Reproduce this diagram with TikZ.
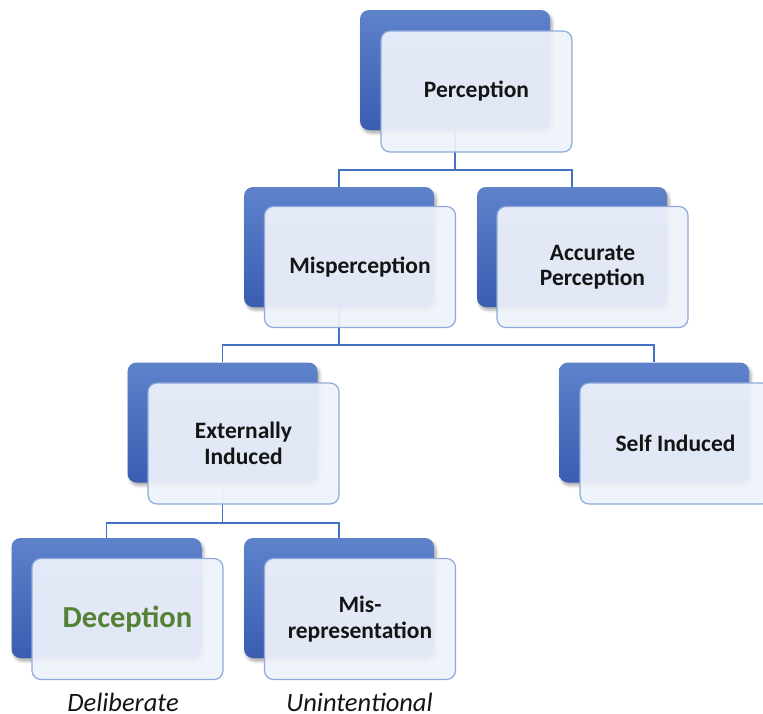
\documentclass[tikz,border=0pt]{standalone}
\usepackage{fontspec}
\setmainfont{Carlito}
\usetikzlibrary{shadows.blur}
\definecolor{connc}{HTML}{4472C4}
\definecolor{bTop}{HTML}{5E82CA}
\definecolor{bBot}{HTML}{3A5DB2}
\definecolor{fBorder}{HTML}{8EAADB}
\definecolor{fFill}{HTML}{EEF2FA}
\definecolor{decgreen}{HTML}{548235}
\definecolor{txt}{HTML}{141414}
\begin{document}
\begin{tikzpicture}[x=1pt,y=-1pt,
  backbox/.style={rounded corners=9pt, minimum width=190pt, minimum height=120pt, inner sep=0pt,
    top color=bTop, bottom color=bBot, draw=none,
    blur shadow={shadow xshift=2pt, shadow yshift=-3pt, shadow blur radius=3pt, shadow opacity=35}},
  frontbox/.style={rounded corners=9pt, minimum width=191pt, minimum height=121pt, inner sep=0pt,
    draw=fBorder, line width=1.2pt, fill=fFill, fill opacity=0.93, text opacity=1,
    font=\fontsize{23.5}{25.5}\selectfont\bfseries, align=center, text=txt},
  link/.style={draw=connc, line width=1.6pt},
  tag/.style={font=\fontsize{26.5}{30}\selectfont\itshape, text=txt, anchor=base, inner sep=0pt}]
\useasboundingbox (0,0) rectangle (763,713);
% back boxes
\node[backbox] (pb) at (455,70) {};
\node[backbox] (mb) at (339,247) {};
\node[backbox] (ab) at (572,247) {};
\node[backbox] (eb) at (222.5,422.5) {};
\node[backbox] (sb) at (654,422.5) {};
\node[backbox] (db) at (106.5,598) {};
\node[backbox] (rb) at (339,598) {};
% connectors
\draw[link] (pb.south) -- ++(0,40) -| (mb.north);
\draw[link] (pb.south) -- ++(0,40) -| (ab.north);
\draw[link] (mb.south) -- ++(0,38) -| (eb.north);
\draw[link] (mb.south) -- ++(0,38) -| (sb.north);
\draw[link] (eb.south) -- ++(0,40) -| (db.north);
\draw[link] (eb.south) -- ++(0,40) -| (rb.north);
% front boxes
\node[frontbox] (pf) at (476.5,91.5) {Perception};
\node[frontbox] (mf) at (360,267) {Misperception};
\node[frontbox] (af) at (592.5,267) {Accurate\\Perception};
\node[frontbox] (ef) at (243.5,443.5) {Externally\\Induced};
\node[frontbox] (sf) at (675.5,443.5) {Self Induced};
\node[frontbox, font=\fontsize{30.5}{34}\selectfont\bfseries, text=decgreen] (df) at (127.5,619) {Deception};
\node[frontbox] (rf) at (360,619) {Mis-\\representation};
% labels
\node[tag] (dl) at (123,711) {Deliberate};
\node[tag] (ul) at (359.5,711) {Unintentional};
\end{tikzpicture}
\end{document}
